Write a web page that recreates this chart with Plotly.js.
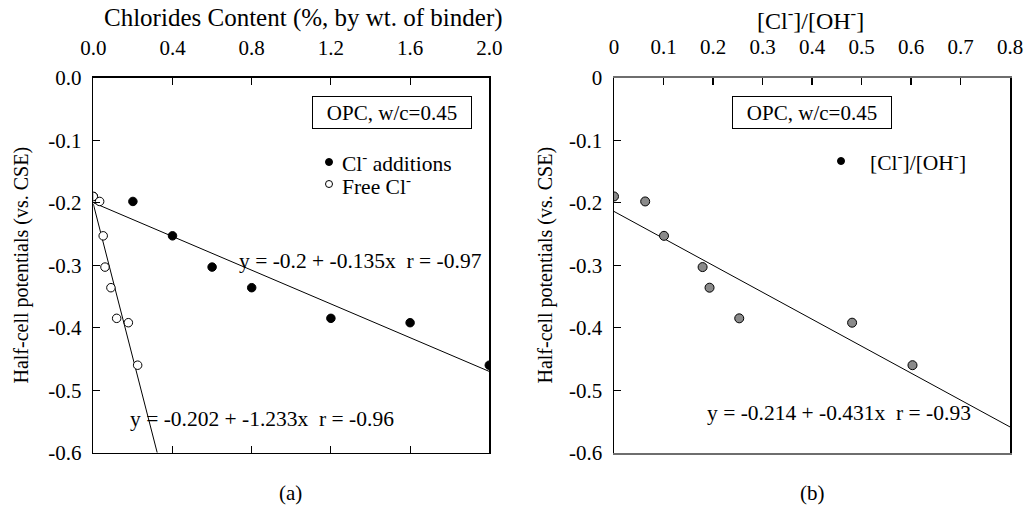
<!DOCTYPE html>
<html>
<head>
<meta charset="utf-8">
<script src="https://cdn.plot.ly/plotly-3.0.1.min.js"></script>
<style>html,body{margin:0;padding:0;background:#fff;}#chart{width:1025px;height:507px;}</style>
</head>
<body>
<div id="chart"></div>
<script>
// ---- Data ----
const potentials   = [-0.19, -0.198, -0.253, -0.303, -0.336, -0.385, -0.392, -0.46];
const clAdditions  = [0, 0.2, 0.4, 0.6, 0.8, 1.2, 1.6, 2.0];
const freeCl       = [0, 0.032, 0.05, 0.059, 0.089, 0.118, 0.177, 0.224];
const clOhRatio    = [0, 0.063, 0.101, 0.179, 0.193, 0.253, 0.481, 0.603];

// regression lines as printed on the chart
const fitAdd   = {a: -0.2,   b: -0.135, xs: [0, 2.0]};
const fitFree  = {a: -0.202, b: -1.233, xs: [0, 0.3228]};
const fitRatio = {a: -0.214, b: -0.431, xs: [0, 0.8]};

// tick labels
const xTicksA = [0, 0.4, 0.8, 1.2, 1.6, 2.0];
const xTickTextA = ['0.0', '0.4', '0.8', '1.2', '1.6', '2.0'];
const xTicksB = [0, 0.1, 0.2, 0.3, 0.4, 0.5, 0.6, 0.7, 0.8];
const xTickTextB = ['0', '0.1', '0.2', '0.3', '0.4', '0.5', '0.6', '0.7', '0.8'];
const yTicks = [0, -0.1, -0.2, -0.3, -0.4, -0.5, -0.6];
const yTickTextA = ['0.0', '-0.1', '-0.2', '-0.3', '-0.4', '-0.5', '-0.6'];
const yTickTextB = ['0', '-0.1', '-0.2', '-0.3', '-0.4', '-0.5', '-0.6'];

// text labels
const titleA = 'Chlorides Content (%, by wt. of binder)';
const titleB = '[Cl<sup>-</sup>]/[OH<sup>-</sup>]';
const yTitle = 'Half-cell potentials (vs. CSE)';
const boxLabel = 'OPC, w/c=0.45';
const legendA = ['Cl<sup>-</sup> additions', 'Free Cl<sup>-</sup>'];
const legendB = ['[Cl<sup>-</sup>]/[OH<sup>-</sup>]'];
const eqA = 'y = -0.2 + -0.135x  r = -0.97';
const eqFree = 'y = -0.202 + -1.233x  r = -0.96';
const eqB = 'y = -0.214 + -0.431x  r = -0.93';

// ---- Build ----
const FONT = 'Liberation Serif';
function fitY(f) { return f.xs.map(x => f.a + f.b * x); }

const traces = [
  {x: fitFree.xs, y: fitY(fitFree), mode: 'lines', line: {color: '#000', width: 1}, showlegend: false, xaxis: 'x', yaxis: 'y', hoverinfo: 'skip'},
  {x: fitAdd.xs, y: fitY(fitAdd), mode: 'lines', line: {color: '#000', width: 1}, showlegend: false, xaxis: 'x', yaxis: 'y', hoverinfo: 'skip'},
  {x: clAdditions, y: potentials, mode: 'markers', name: legendA[0], showlegend: false,
   marker: {symbol: 'circle', size: 8.5, color: '#000', line: {color: '#000', width: 1}}, xaxis: 'x', yaxis: 'y'},
  {x: freeCl, y: potentials, mode: 'markers', name: legendA[1], showlegend: false,
   marker: {symbol: 'circle', size: 8.5, color: '#fff', line: {color: '#000', width: 1}}, xaxis: 'x', yaxis: 'y'},
  {x: fitRatio.xs, y: fitY(fitRatio), mode: 'lines', line: {color: '#000', width: 1}, showlegend: false, xaxis: 'x2', yaxis: 'y2', hoverinfo: 'skip'},
  {x: clOhRatio, y: potentials, mode: 'markers', name: legendB[0], showlegend: false,
   marker: {symbol: 'circle', size: 9, color: '#8a8a8a', line: {color: '#000', width: 1}}, xaxis: 'x2', yaxis: 'y2'}
];

const W = 1025, H = 507;
const px = v => v / W, py = v => 1 - v / H;

function axisBase() {
  return {
    showgrid: false, zeroline: false, showline: true, linecolor: '#000', linewidth: 1.5,
    ticks: 'inside', ticklen: 7, tickwidth: 1.2, tickcolor: '#000',
    tickfont: {family: FONT, size: 21, color: '#000'}, tickmode: 'array'
  };
}

function txt(x, y, text, size, xanchor, extra) {
  return Object.assign({xref: 'paper', yref: 'paper', x: px(x), y: py(y), text: text, showarrow: false,
    xanchor: xanchor || 'center', yanchor: 'middle', font: {family: FONT, size: size, color: '#000'}}, extra || {});
}
function dot(cx, cy, r, fill) {
  return {type: 'circle', xref: 'paper', yref: 'paper', x0: px(cx - r), x1: px(cx + r), y0: py(cy + r), y1: py(cy - r),
    fillcolor: fill, line: {color: '#000', width: 1}};
}

const layout = {
  width: W, height: H,
  margin: {l: 0, r: 0, t: 0, b: 0},
  paper_bgcolor: '#fff', plot_bgcolor: '#fff',
  font: {family: FONT, size: 20, color: '#000'},
  showlegend: false,
  xaxis: Object.assign(axisBase(), {
    domain: [px(93.3), px(489.3)], range: [0, 2.0], side: 'top', anchor: 'y',
    tickvals: xTicksA, ticktext: xTickTextA, mirror: 'ticks', ticklabelstandoff: 13
  }),
  yaxis: Object.assign(axisBase(), {
    domain: [py(452.7), py(77.7)], range: [-0.6, 0], anchor: 'x',
    tickvals: yTicks, ticktext: yTickTextA, mirror: true, ticklabelstandoff: 6,
    title: {text: yTitle, font: {family: FONT, size: 20, color: '#000'}, standoff: 14}
  }),
  xaxis2: Object.assign(axisBase(), {
    domain: [px(614), px(1010)], range: [0, 0.8], side: 'top', anchor: 'y2',
    tickvals: xTicksB, ticktext: xTickTextB, mirror: true, ticklabelstandoff: 13,
    linecolor: '#6e6e6e', linewidth: 2
  }),
  yaxis2: Object.assign(axisBase(), {
    domain: [py(452.7), py(77.7)], range: [-0.6, 0], anchor: 'x2',
    tickvals: yTicks, ticktext: yTickTextB, mirror: true, ticklabelstandoff: 6,
    title: {text: yTitle, font: {family: FONT, size: 20, color: '#000'}, standoff: 11}
  }),
  shapes: [
    dot(329, 162, 3.5, '#000'),
    dot(329, 184, 3.5, '#fff'),
    dot(841, 161, 3.5, '#000')
  ],
  annotations: [
    txt(303.7, 18, titleA, 25),
    txt(810.5, 19, titleB, 24),
    txt(391.7, 112.4, boxLabel, 21, 'center', {bordercolor: '#000', borderwidth: 1, width: 156, height: 29, borderpad: 1, bgcolor: '#fff'}),
    txt(811.5, 112.4, boxLabel, 21, 'center', {bordercolor: '#000', borderwidth: 1, width: 156, height: 29, borderpad: 1, bgcolor: '#fff'}),
    txt(340, 162, legendA[0], 21.5, 'left', {height: 22}),
    txt(340, 185, legendA[1], 21.5, 'left', {height: 22}),
    txt(868, 161, legendB[0], 21.5, 'left'),
    {xref: 'x', yref: 'y', x: 0.727, y: -0.294, xanchor: 'left', yanchor: 'middle', text: eqA, showarrow: false, font: {family: FONT, size: 21.5, color: '#000'}},
    {xref: 'x', yref: 'y', x: 0.174, y: -0.5466, xanchor: 'left', yanchor: 'middle', text: eqFree, showarrow: false, font: {family: FONT, size: 21.5, color: '#000'}},
    {xref: 'x2', yref: 'y2', x: 0.183, y: -0.536, xanchor: 'left', yanchor: 'middle', text: eqB, showarrow: false, font: {family: FONT, size: 21.5, color: '#000'}},
    txt(290, 493, '(a)', 21),
    txt(812, 493, '(b)', 21)
  ]
};

Plotly.newPlot('chart', traces, layout, {staticPlot: true, displayModeBar: false});
</script>
</body>
</html>
